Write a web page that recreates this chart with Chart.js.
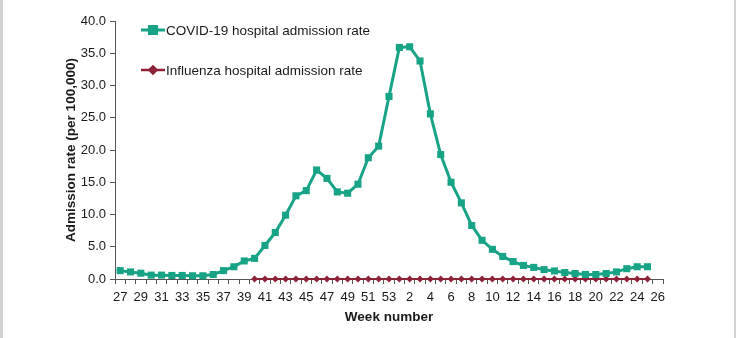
<!DOCTYPE html>
<html>
<head>
<meta charset="utf-8">
<script src="https://cdn.jsdelivr.net/npm/chart.js@4/dist/chart.umd.min.js"></script>
<style>
  html, body { margin: 0; padding: 0; background: #ffffff; }
  #wrap { position: relative; width: 736px; height: 338px; box-sizing: border-box;
          border-left: 3px solid #d3d3d3; border-right: 2px solid #d3d3d3; }
  #c { position: absolute; left: -3px; top: 0; }
</style>
</head>
<body>
<div id="wrap"><canvas id="c" width="736" height="338"></canvas></div>
<script>
const weeks = ['27','28','29','30','31','32','33','34','35','36','37','38','39','40','41','42','43','44','45','46','47','48','49','50','51','52','53',
               '1','2','3','4','5','6','7','8','9','10','11','12','13','14','15','16','17','18','19','20','21','22','23','24','25','26'];
const covidRates = [1.3,1.1,0.9,0.6,0.6,0.55,0.55,0.5,0.5,0.7,1.3,1.9,2.8,3.2,5.2,7.2,9.9,12.9,13.7,16.9,15.6,13.5,13.3,14.7,18.8,20.6,28.3,
                    35.9,36.0,33.8,25.6,19.3,15.0,11.8,8.3,6.0,4.6,3.5,2.7,2.1,1.8,1.45,1.25,1.0,0.85,0.7,0.7,0.85,1.1,1.6,1.9,1.9,null];
const fluRates = [null,null,null,null,null,null,null,null,null,null,null,null,null,
                  0.0,0.0,0.0,0.0,0.0,0.0,0.0,0.0,0.0,0.0,0.0,0.0,0.0,0.0,
                  0.0,0.0,0.0,0.0,0.0,0.0,0.0,0.0,0.0,0.0,0.0,0.0,0.0,0.0,0.0,0.0,0.0,0.0,0.0,0.0,0.0,0.0,0.0,0.0,0.0,null];
const seriesNames = ['COVID-19 hospital admission rate', 'Influenza hospital admission rate'];

const teal = '#17a386';
const red = '#8e2239';
const axisColor = '#555555';
const font = "'Liberation Sans', Arial, sans-serif";

const legendPlugin = {
  id: 'insideLegend',
  afterDraw(chart) {
    const ctx = chart.ctx;
    const items = [
      { y: 30, color: teal, style: 'rect', r: 5, lw: 3 },
      { y: 70, color: red, style: 'rectRot', r: 3.5, lw: 2.5 }
    ];
    ctx.save();
    items.forEach((it, i) => {
      ctx.strokeStyle = it.color;
      ctx.lineWidth = it.lw;
      ctx.beginPath();
      ctx.moveTo(141, it.y);
      ctx.lineTo(165, it.y);
      ctx.stroke();
      Chart.helpers.drawPoint(ctx, { pointStyle: it.style, radius: it.r, borderWidth: 1 }, 153, it.y);
      ctx.fillStyle = it.color;
      ctx.fill();
      ctx.fillStyle = '#1a1a1a';
      ctx.font = '13.5px ' + font;
      ctx.textBaseline = 'middle';
      ctx.textAlign = 'left';
      ctx.fillText(seriesNames[i], 166, it.y + 1);
    });
    ctx.restore();
  }
};

new Chart(document.getElementById('c'), {
  type: 'line',
  data: {
    labels: weeks,
    datasets: [
      { label: seriesNames[0], data: covidRates, borderColor: teal, backgroundColor: teal,
        borderWidth: 3, pointStyle: 'rect', pointRadius: 5, pointBorderWidth: 0, tension: 0, clip: 6 },
      { label: seriesNames[1], data: fluRates, borderColor: red, backgroundColor: red,
        borderWidth: 2, pointStyle: 'rectRot', pointRadius: 3.5, pointBorderWidth: 0, tension: 0, clip: 6 }
    ]
  },
  options: {
    responsive: false,
    animation: false,
    devicePixelRatio: 1,
    layout: { padding: { left: 63, top: 21, right: 73, bottom: 13 } },
    plugins: { legend: { display: false }, tooltip: { enabled: false } },
    scales: {
      x: {
        type: 'category',
        offset: true,
        grid: { offset: true, drawOnChartArea: false, drawTicks: true, tickLength: 5, color: axisColor },
        border: { display: true, color: axisColor, width: 1 },
        ticks: {
          autoSkip: false, maxRotation: 0, minRotation: 0, padding: 6,
          color: '#1a1a1a', font: { family: font, size: 13 },
          callback: function(v, i) { return i % 2 === 0 ? weeks[i] : ''; }
        },
        title: { display: true, text: 'Week number', color: '#1a1a1a',
                 font: { family: font, size: 13.5, weight: 'bold' }, padding: { top: 2, bottom: 0 } },
        afterFit(scale) { scale.height = 46; }
      },
      y: {
        min: 0, max: 40,
        grid: { drawOnChartArea: false, drawTicks: true, tickLength: 5, color: axisColor },
        border: { display: true, color: axisColor, width: 1 },
        ticks: { stepSize: 5, padding: 4, color: '#1a1a1a', font: { family: font, size: 13 },
                 callback: v => Number(v).toFixed(1) },
        title: { display: true, text: 'Admission rate (per 100,000)', color: '#1a1a1a',
                 font: { family: font, size: 13.5, weight: 'bold' }, padding: { top: 0, bottom: 0 } },
        afterFit(scale) { scale.width = 52; }
      }
    }
  },
  plugins: [legendPlugin]
});
</script>
</body>
</html>
